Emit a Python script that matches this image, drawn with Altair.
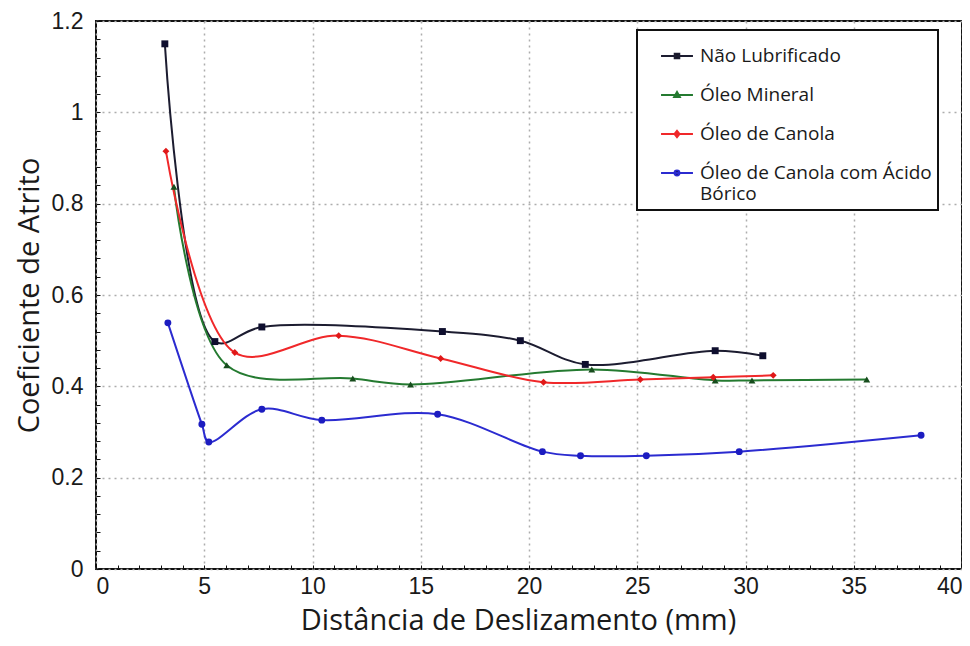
import altair as alt
import pandas as pd

series = ["Não Lubrificado", "Óleo Mineral", "Óleo de Canola", "Óleo de Canola com Ácido Bórico"]

x_nl = [3.18, 5.49, 7.66, 16.0, 19.6, 22.6, 28.6, 30.8]
y_nl = [1.150, 0.498, 0.530, 0.520, 0.500, 0.448, 0.478, 0.467]

x_om = [3.60, 6.04, 11.86, 14.53, 22.9, 28.6, 30.3, 35.6]
y_om = [0.837, 0.446, 0.417, 0.404, 0.437, 0.413, 0.413, 0.415]

x_oc = [3.23, 6.41, 11.21, 15.92, 20.67, 25.14, 28.51, 31.28]
y_oc = [0.915, 0.474, 0.511, 0.461, 0.409, 0.415, 0.420, 0.424]

x_ab = [3.32, 4.89, 5.21, 7.66, 10.43, 15.78, 20.62, 22.38, 25.42, 29.71, 38.11]
y_ab = [0.539, 0.317, 0.278, 0.350, 0.326, 0.339, 0.257, 0.248, 0.248, 0.257, 0.293]

line_colors = ["#1c1c30", "#247a30", "#f0282a", "#2b2bd0"]
marker_colors = ["#0e0e2e", "#174d1d", "#e01818", "#1c1cc0"]
marker_shapes = ["square", "triangle-up", "diamond", "circle"]
legend_paths = [
    "M-0.84,0H0.84M-0.12,-0.12H0.12V0.12H-0.12Z",
    "M-0.84,0H0.84M0,-0.16L0.15,0.11H-0.15Z",
    "M-0.84,0H0.84M0,-0.16L0.13,0L0,0.16L-0.13,0Z",
    "M-0.84,0H0.84M-0.13,0A0.13,0.13 0 1,0 0.13,0A0.13,0.13 0 1,0 -0.13,0Z",
]

x_major = list(range(0, 41, 5))
x_minor = list(range(0, 41))
y_major = [0, 0.2, 0.4, 0.6, 0.8, 1.0, 1.2]
y_minor = [round(i * 0.04, 2) for i in range(31)]

rows = []
for name, xs, ys, shp, lc, mc in zip(series, [x_nl, x_om, x_oc, x_ab], [y_nl, y_om, y_oc, y_ab],
                                     marker_shapes, line_colors, marker_colors):
    for xv, yv in zip(xs, ys):
        rows.append({"serie": name, "x": xv, "y": yv, "forma": shp,
                     "cor_linha": lc, "cor_marcador": mc})
df = pd.DataFrame(rows)

x_scale = alt.Scale(domain=[0, 40], nice=False, zero=False)
y_scale = alt.Scale(domain=[0, 1.2], nice=False)

label_expr = ("datum.label == 'Óleo de Canola com Ácido Bórico' ? "
              "['Óleo de Canola com Ácido', 'Bórico'] : datum.label")

base = alt.Chart(df)

lines = base.mark_line(interpolate="catmull-rom", strokeWidth=2).encode(
    x=alt.X("x:Q", scale=x_scale, axis=alt.Axis(
        orient="bottom", values=x_major, grid=True, ticks=False, domain=False,
        labelFont="Liberation Sans", labelFontSize=23, labelColor="#1a1a1a", labelPadding=6,
        title="Distância de Deslizamento (mm)", titleFont="Open Sans", titleFontSize=29,
        titleFontWeight="normal", titleColor="#1a1a1a", titleX=422, titleY=60,
        titleAlign="center", titleBaseline="alphabetic",
        gridColor="#adadad", gridDash=[2, 4], gridWidth=1.5)),
    y=alt.Y("y:Q", scale=y_scale, axis=alt.Axis(
        orient="left", values=y_major, format=".2~f", grid=True, ticks=False, domain=False,
        labelFont="Liberation Sans", labelFontSize=23, labelColor="#1a1a1a", labelPadding=13,
        title="Coeficiente de Atrito", titleFont="Open Sans", titleFontSize=29,
        titleFontWeight="normal", titleColor="#1a1a1a", titleX=-58, titleBaseline="alphabetic",
        gridColor="#adadad", gridDash=[2, 4], gridWidth=1.5)),
    detail="serie:N",
    color=alt.Color("cor_linha:N", scale=None),
)

points = base.mark_point(filled=True, opacity=1, size=48).encode(
    x=alt.X("x:Q", scale=x_scale, axis=alt.Axis(
        orient="bottom", values=x_minor, labels=False, grid=False, domain=False,
        ticks=True, tickSize=4, offset=-4, tickColor="#111111", title=None)),
    y=alt.Y("y:Q", scale=y_scale, axis=alt.Axis(
        orient="left", values=y_minor, labels=False, grid=False, domain=False,
        ticks=True, tickSize=4, offset=-4, tickColor="#111111", title=None)),
    fill=alt.Fill("cor_marcador:N", scale=None),
    shape=alt.Shape("forma:N", scale=None),
)

leg = alt.Legend(
    title=None, orient="none", legendX=541, legendY=9, labelExpr=label_expr,
    fillColor="white", strokeColor="#111111", padding=6,
    labelFont="Open Sans", labelFontSize=19, labelColor="#1a1a1a",
    symbolSize=1444, symbolStrokeWidth=2, symbolOffset=14, labelOffset=3,
    rowPadding=9, symbolOpacity=1, labelLimit=400,
)
legend_layer = base.mark_point(filled=False, opacity=0, strokeWidth=2).encode(
    x=alt.X("x:Q", scale=x_scale, axis=None),
    y=alt.Y("y:Q", scale=y_scale, axis=None),
    stroke=alt.Stroke("serie:N", scale=alt.Scale(domain=series, range=line_colors), legend=leg),
    shape=alt.Shape("serie:N", scale=alt.Scale(domain=series, range=legend_paths), legend=leg),
)

chart = alt.layer(lines, points, legend_layer).resolve_axis(
    x="independent", y="independent"
).properties(
    width=866, height=548,
    autosize=alt.AutoSizeParams(type="none"),
    padding={"left": 88, "top": 13, "right": 0, "bottom": 69},
    background="white",
).configure_view(
    stroke="#111111", strokeWidth=2
).configure_legend(
    strokeWidth=2
)

chart.save("out.html", embed_options={"renderer": "svg", "actions": False})
